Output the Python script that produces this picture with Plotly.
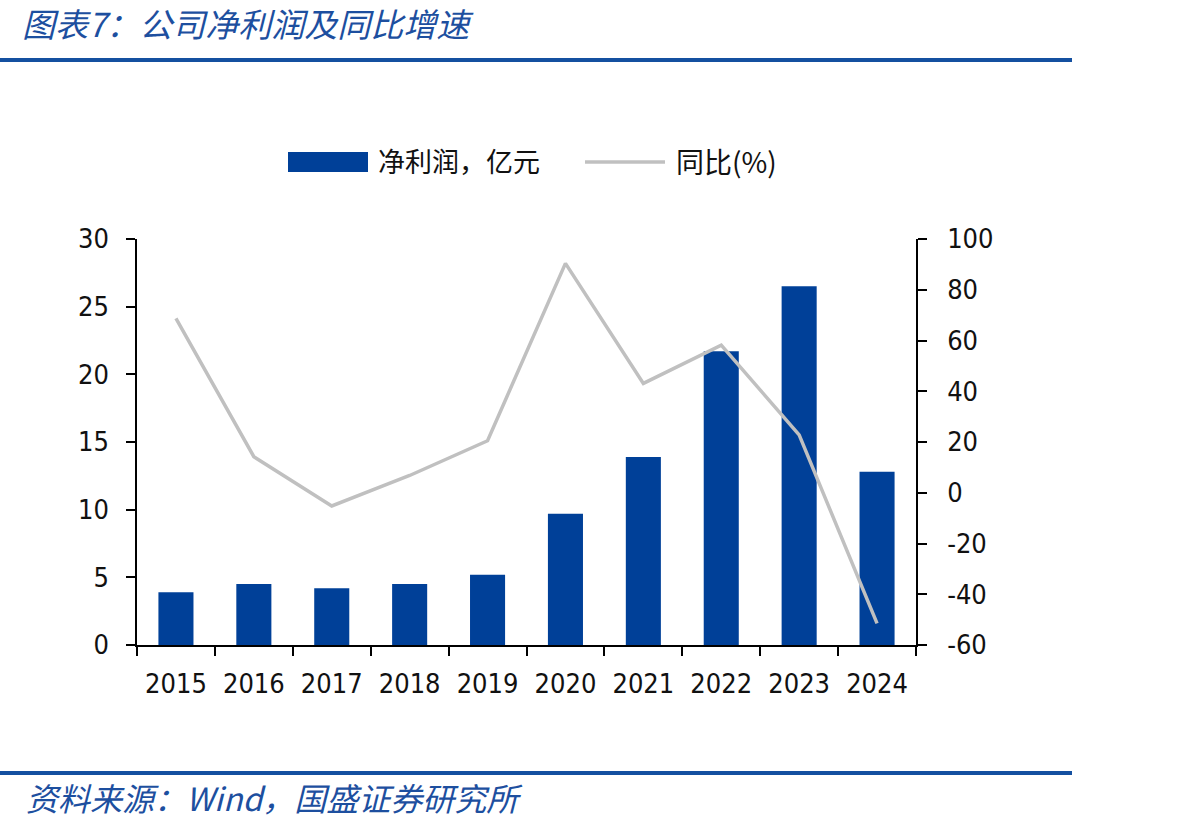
import plotly.graph_objects as go

years = ["2015", "2016", "2017", "2018", "2019", "2020", "2021", "2022", "2023", "2024"]
net_profit = [3.9, 4.5, 4.2, 4.5, 5.2, 9.7, 13.9, 21.7, 26.5, 12.8]
yoy_growth = [68.7, 14.2, -5.2, 6.8, 20.5, 90.4, 43.1, 58.2, 22.8, -51.5]

left_ticks = [0, 5, 10, 15, 20, 25, 30]
right_ticks = [-60, -40, -20, 0, 20, 40, 60, 80, 100]
right_tick_text = ["-60", "-40", "-20", "0", "20", "40", "60", "80", "100"]

bar_name = "净利润，亿元"
line_name = "同比(%)"
title_text = "图表7：公司净利润及同比增速"
source_text = "资料来源：Wind，国盛证券研究所"

BLUE = "#004098"
GREY = "#c0c0c0"
TXT_BLUE = "#1d4f9f"
RULE = "#1450a0"
CJK = "Noto Sans CJK SC"
NUM = "DejaVu Sans Condensed, DejaVu Sans"
NUMSIZE = 27

W, H = 1192, 829
L, R, T, B = 137, 916, 239, 645

fig = go.Figure()
fig.add_trace(go.Bar(x=years, y=net_profit, name=bar_name, marker=dict(color=BLUE, line=dict(width=0)),
                     width=0.45, yaxis="y", showlegend=False))
fig.add_trace(go.Scatter(x=years, y=yoy_growth, name=line_name, mode="lines",
                         line=dict(color=GREY, width=3.5), yaxis="y2", showlegend=False))

def px(x):
    return (x - L) / (R - L)

def py(y):
    return (B - y) / (B - T)

shapes = [
    dict(type="line", xref="paper", yref="paper", x0=px(0), x1=px(1072), y0=py(60), y1=py(60),
         line=dict(color=RULE, width=4)),
    dict(type="line", xref="paper", yref="paper", x0=px(0), x1=px(1072), y0=py(773), y1=py(773),
         line=dict(color=RULE, width=4)),
    dict(type="rect", xref="paper", yref="paper", x0=px(288), x1=px(368), y0=py(172), y1=py(152),
         fillcolor=BLUE, line=dict(width=0)),
    dict(type="line", xref="paper", yref="paper", x0=px(585), x1=px(665), y0=py(162), y1=py(162),
         line=dict(color=GREY, width=3.5)),
]

annotations = [
    dict(text=title_text, xref="paper", yref="paper", x=px(20), y=py(23), xanchor="left", yanchor="middle",
         showarrow=False, font=dict(family=CJK, size=33, color=TXT_BLUE, style="italic")),
    dict(text=source_text, xref="paper", yref="paper", x=px(24), y=py(797), xanchor="left", yanchor="middle",
         showarrow=False, font=dict(family=CJK, size=32, color=TXT_BLUE, style="italic")),
    dict(text=bar_name, xref="paper", yref="paper", x=px(376), y=py(161), xanchor="left", yanchor="middle",
         showarrow=False, font=dict(family=CJK, size=27, color="#111111")),
    dict(text=line_name, xref="paper", yref="paper", x=px(674), y=py(161), xanchor="left", yanchor="middle",
         showarrow=False, font=dict(family=CJK, size=28, color="#111111")),
]

axis_common = dict(showline=True, linecolor="black", linewidth=1.5, ticks="outside", ticklen=9,
                   tickcolor="black", tickwidth=1.5, showgrid=False, zeroline=False,
                   tickfont=dict(family=NUM, size=NUMSIZE, color="#111111"))

fig.update_layout(
    width=W, height=H,
    margin=dict(l=L, r=W - R, t=T, b=H - B, pad=0),
    paper_bgcolor="white", plot_bgcolor="white",
    showlegend=False,
    font=dict(family=NUM, size=NUMSIZE, color="#111111"),
    xaxis=dict(type="category", tickson="boundaries", ticklabelstandoff=14, **axis_common),
    yaxis=dict(range=[0, 30], tickmode="array", tickvals=left_ticks, ticklabelstandoff=12, **axis_common),
    yaxis2=dict(range=[-60, 100], tickmode="array", tickvals=right_ticks, ticktext=right_tick_text,
                overlaying="y", side="right", ticklabelstandoff=15, **axis_common),
    shapes=shapes,
    annotations=annotations,
)

fig.write_html("out.html")
